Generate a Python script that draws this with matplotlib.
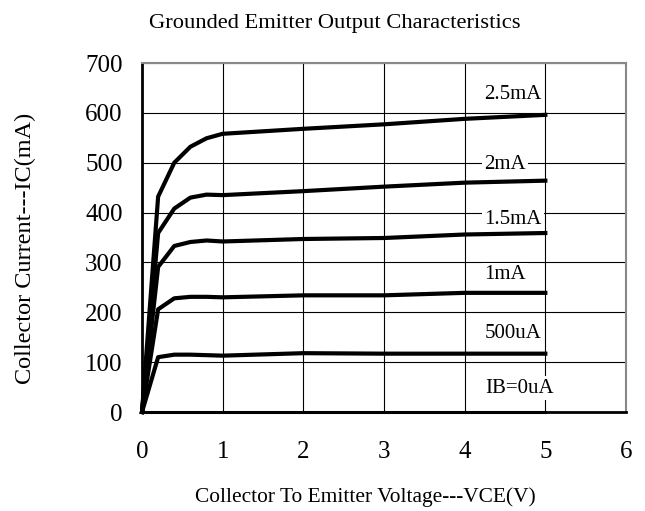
import matplotlib
matplotlib.use("Agg")
import matplotlib.pyplot as plt

# collector current curves, IC (mA) vs VCE (V), one per base current
vce_knee = [0, 0.2, 0.4, 0.6, 0.8, 1, 2, 3, 4, 5]
ic_2p5mA = [0, 432, 500, 532, 549, 558, 568, 577, 588, 596]
ic_2mA = [0, 359, 408, 430, 436, 435, 443, 452, 460, 464]
ic_1p5mA = [0, 291, 333, 341, 344, 342, 347, 349, 356, 359]
ic_1mA = [0, 206, 228, 231, 231, 230, 234, 234, 239, 239]
ic_500uA = [0, 110, 115, 115, 114, 113, 118, 117, 117, 117]
ic_0uA = [0, 0, 0, 0, 0, 0, 0, 0, 0, 0]

curve_names = ["2.5mA", "2mA", "1.5mA", "1mA", "500uA", "IB=0uA"]
curves = [ic_2p5mA, ic_2mA, ic_1p5mA, ic_1mA, ic_500uA, ic_0uA]
label_x = [4.6, 4.5, 4.6, 4.5, 4.6, 4.68]
label_y = [636, 497, 387, 275, 158, 48]

xticks = [0, 1, 2, 3, 4, 5, 6]
yticks = [0, 100, 200, 300, 400, 500, 600, 700]

plt.rcParams["font.family"] = ["Liberation Serif", "DejaVu Serif"]

fig = plt.figure(figsize=(6.45, 5.11), dpi=100)
ax = fig.add_axes([142 / 645, 99 / 511, 484 / 645, 349 / 511])

for ic in curves:
    lw = 2.2 if ic is ic_0uA else 3
    ax.plot(vce_knee, ic, color="black", lw=lw, solid_joinstyle="round", zorder=3, clip_on=False)
for name, lx, ly in zip(curve_names, label_x, label_y):
    ax.text(lx, ly, name, ha="center", va="center", fontsize=15, zorder=4,
            bbox=dict(facecolor="white", edgecolor="none", pad=1.5))

ax.set_xlim(0, 6)
ax.set_ylim(0, 700)
ax.set_xticks(xticks)
ax.set_yticks(yticks)
ax.grid(True, color="black", lw=0.8)
ax.set_axisbelow(True)
ax.tick_params(length=0, labelsize=18)
ax.tick_params(axis="y", pad=14)
ax.tick_params(axis="x", pad=21)
for s in ("top", "right"):
    ax.spines[s].set_color("#888888")
    ax.spines[s].set_linewidth(1.5)
for s in ("left", "bottom"):
    ax.spines[s].set_color("black")
    ax.spines[s].set_linewidth(2)

fig.text(335 / 645, 1 - 23 / 511, "Grounded Emitter Output Characteristics",
         ha="center", va="center", fontsize=16.2)
fig.text(365 / 645, 1 - 497 / 511, "Collector To Emitter Voltage---VCE(V)",
         ha="center", va="center", fontsize=15.4)
fig.text(25 / 645, 1 - 248 / 511, "Collector Current---IC(mA)",
         ha="center", va="center", rotation=90, fontsize=17.5)

fig.savefig("out.png", dpi=100)
